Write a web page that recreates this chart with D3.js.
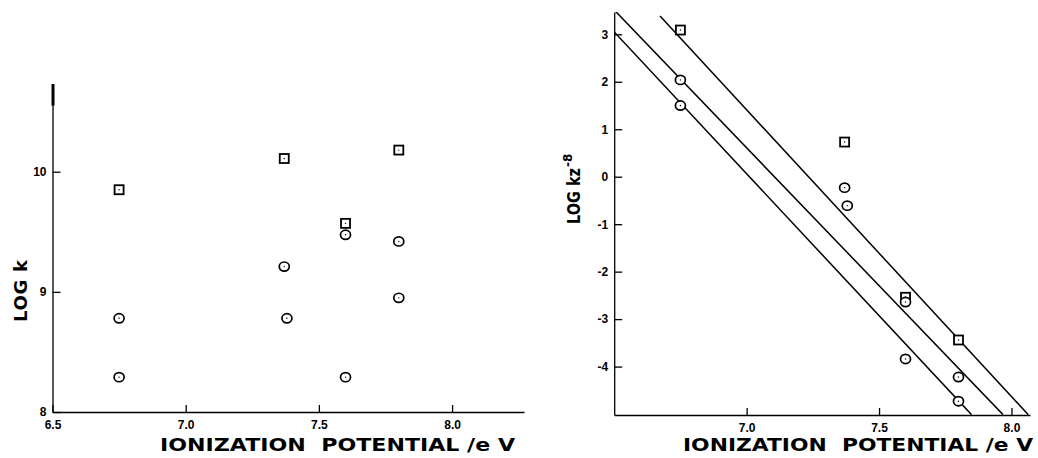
<!DOCTYPE html>
<head>
<meta charset="utf-8">
<title>Ionization potential</title>
<style>
  body { margin: 0; background: #fff; }
  svg { display: block; }
  .tick text { font-family: "Liberation Sans", Arial, sans-serif; font-weight: bold; font-size: 12px; fill: #000; }
  .tick line, .domain { stroke: #000; stroke-width: 1.3px; }
  .title { font-family: "DejaVu Sans", sans-serif; font-weight: bold; fill: #000; white-space: pre; }
</style>
</head>

<div id="chart"></div>

<script src="https://cdn.jsdelivr.net/npm/d3@7"></script>
<script>
// ---- data ----
const ipSq    = [6.75, 7.37, 7.60, 7.80];
const ipCirA  = [6.75, 7.37, 7.60, 7.80];
const ipCirB  = [6.75, 7.38, 7.60, 7.80];

// left panel: LOG k
const logkSq   = [9.85, 10.11, 9.57, 10.18];
const logkCirA = [8.78, 9.21, 9.475, 9.42];
const logkCirB = [8.29, 8.78, 8.29, 8.95];

// right panel: LOG kz^-8
const logkzSq   = [3.09, 0.73, -2.54, -3.44];
const logkzCirA = [2.04, -0.23, -2.64, -4.22];
const logkzCirB = [1.50, -0.61, -3.84, -4.73];

// fitted lines (end points, clipped to the frame)
const fitLines = [
  [[6.673, 3.386], [8.063, -5.012]],
  [[6.50, 3.513], [7.968, -5.012]],
  [[6.50, 3.05], [7.849, -5.012]]
];

const leftXTicks  = [6.5, 7.0, 7.5, 8.0];
const leftYTicks  = [8, 9, 10];
const rightXTicks = [7.0, 7.5, 8.0];
const rightYTicks = [-4, -3, -2, -1, 0, 1, 2, 3];

const W = 1038, H = 458;
const svg = d3.select("#chart").append("svg").attr("width", W).attr("height", H);

// scales
const xL = d3.scaleLinear().domain([6.5, 8.27]).range([52.5, 524]);
const yL = d3.scaleLinear().domain([8, 10.73]).range([412, 84]);
const xR = d3.scaleLinear().domain([6.5, 8.07]).range([614.2, 1030]);
const yR = d3.scaleLinear().domain([-5.02, 3.47]).range([415, 12]);

const fmt = d3.format(".1f");

//
// axes
//
function drawAxes(x, y, xt, yt, yFmt) {
  svg.append("g")
    .attr("transform", `translate(0,${y.range()[0]})`)
    .call(d3.axisBottom(x).tickValues(xt).tickFormat(fmt).tickSize(-7).tickSizeOuter(0).tickPadding(8));
  svg.append("g")
    .attr("transform", `translate(${x.range()[0]},0)`)
    .call(d3.axisLeft(y).tickValues(yt).tickFormat(yFmt).tickSize(-8).tickSizeOuter(0).tickPadding(6));
}
drawAxes(xL, yL, leftXTicks, leftYTicks, d3.format("d"));
drawAxes(xR, yR, rightXTicks, rightYTicks, d => d < 0 ? "-" + Math.abs(d) : d);

// thick mark at the top of the left axis
svg.append("line")
  .attr("x1", xL.range()[0] + 0.5).attr("x2", xL.range()[0] + 0.5)
  .attr("y1", yL(10.73)).attr("y2", yL(10.55))
  .attr("stroke", "#000").attr("stroke-width", 3);

//
// fitted lines (right panel)
//
svg.append("clipPath").attr("id", "clipR")
  .append("rect")
  .attr("x", xR.range()[0]).attr("y", yR.range()[1])
  .attr("width", xR.range()[1] - xR.range()[0])
  .attr("height", yR.range()[0] - yR.range()[1]);

svg.append("g").attr("clip-path", "url(#clipR)")
  .selectAll("path").data(fitLines).join("path")
  .attr("d", d3.line().x(d => xR(d[0])).y(d => yR(d[1])))
  .attr("fill", "none").attr("stroke", "#000").attr("stroke-width", 1.5);

//
// markers
//
function drawMarkers(x, y, xs, ys, shape) {
  const pts = xs.map((v, i) => [v, ys[i]]);
  const g = svg.append("g");
  if (shape === "square") {
    g.selectAll("rect").data(pts).join("rect")
      .attr("x", d => x(d[0]) - 4.5).attr("y", d => y(d[1]) - 4.5)
      .attr("width", 9).attr("height", 9)
      .attr("fill", "#fff").attr("stroke", "#000").attr("stroke-width", 1.8);
  } else {
    g.selectAll("ellipse").data(pts).join("ellipse")
      .attr("cx", d => x(d[0])).attr("cy", d => y(d[1]))
      .attr("rx", 5).attr("ry", 4.6)
      .attr("fill", "#fff").attr("stroke", "#000").attr("stroke-width", 1.7);
  }
  // small centre dot
  g.selectAll("circle.dot").data(pts).join("circle")
    .attr("class", "dot")
    .attr("cx", d => x(d[0])).attr("cy", d => y(d[1])).attr("r", 0.7)
    .attr("fill", "#000");
}
drawMarkers(xL, yL, ipSq, logkSq, "square");
drawMarkers(xL, yL, ipCirA, logkCirA, "circle");
drawMarkers(xL, yL, ipCirB, logkCirB, "circle");
drawMarkers(xR, yR, ipSq, logkzSq, "square");
drawMarkers(xR, yR, ipCirA, logkzCirA, "circle");
drawMarkers(xR, yR, ipCirB, logkzCirB, "circle");

//
// titles
//
svg.append("text").attr("class", "title")
  .attr("x", 160).attr("y", 451)
  .attr("font-size", 17)
  .attr("textLength", 355).attr("lengthAdjust", "spacingAndGlyphs")
  .text("IONIZATION  POTENTIAL /e V");

svg.append("text").attr("class", "title")
  .attr("x", 683).attr("y", 451)
  .attr("font-size", 17)
  .attr("textLength", 350).attr("lengthAdjust", "spacingAndGlyphs")
  .text("IONIZATION  POTENTIAL /e V");

svg.append("text").attr("class", "title")
  .attr("transform", "translate(27,322) rotate(-90)")
  .attr("font-size", 18)
  .attr("textLength", 62).attr("lengthAdjust", "spacing")
  .text("LOG k");

const yt = svg.append("text").attr("class", "title")
  .attr("transform", "translate(580,224) rotate(-90)")
  .attr("font-size", 17);
yt.append("tspan").attr("textLength", 56).attr("lengthAdjust", "spacingAndGlyphs").text("LOG kz");
yt.append("tspan").attr("font-size", 12).attr("dy", -8).attr("dx", 1).text("-8");
</script>
